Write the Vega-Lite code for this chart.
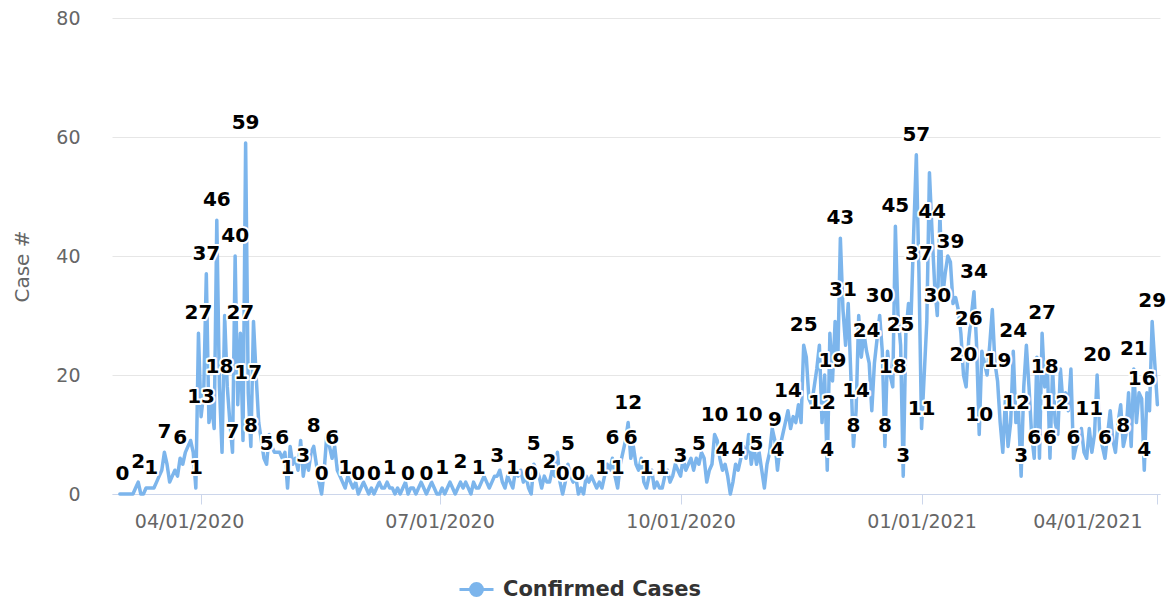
{
"$schema":"https://vega.github.io/schema/vega-lite/v6.json",
"width":1048,"height":476,
"autosize":{"type":"none"},
"padding":{"left":112,"top":18,"right":12,"bottom":111},
"background":"white",
"config":{"view":{"stroke":null},"font":"DejaVu Sans"},
"data":{"values":[
{"d":"2020-03-01","v":0},{"d":"2020-03-02","v":0,"l":1},{"d":"2020-03-03","v":0},{"d":"2020-03-04","v":0},{"d":"2020-03-05","v":0},{"d":"2020-03-06","v":0},{"d":"2020-03-07","v":1},{"d":"2020-03-08","v":2,"l":1},{"d":"2020-03-09","v":0},{"d":"2020-03-10","v":0},{"d":"2020-03-11","v":1},{"d":"2020-03-12","v":1},{"d":"2020-03-13","v":1,"l":1},{"d":"2020-03-14","v":1},{"d":"2020-03-15","v":2},{"d":"2020-03-16","v":3},{"d":"2020-03-17","v":4},{"d":"2020-03-18","v":7,"l":1},{"d":"2020-03-19","v":5},{"d":"2020-03-20","v":2},{"d":"2020-03-21","v":3},{"d":"2020-03-22","v":4},{"d":"2020-03-23","v":3},{"d":"2020-03-24","v":6,"l":1},{"d":"2020-03-25","v":5},{"d":"2020-03-26","v":7},{"d":"2020-03-27","v":8},{"d":"2020-03-28","v":9},{"d":"2020-03-29","v":7},{"d":"2020-03-30","v":1,"l":1},{"d":"2020-03-31","v":27,"l":1},
{"d":"2020-04-01","v":13,"l":1},{"d":"2020-04-02","v":17},{"d":"2020-04-03","v":37,"l":1},{"d":"2020-04-04","v":12},{"d":"2020-04-05","v":15},{"d":"2020-04-06","v":11},{"d":"2020-04-07","v":46,"l":1},{"d":"2020-04-08","v":18,"l":1},{"d":"2020-04-09","v":7},{"d":"2020-04-10","v":30},{"d":"2020-04-11","v":18},{"d":"2020-04-12","v":12},{"d":"2020-04-13","v":7,"l":1},{"d":"2020-04-14","v":40,"l":1},{"d":"2020-04-15","v":15},{"d":"2020-04-16","v":27,"l":1},{"d":"2020-04-17","v":9},{"d":"2020-04-18","v":59,"l":1},{"d":"2020-04-19","v":17,"l":1},{"d":"2020-04-20","v":8,"l":1},{"d":"2020-04-21","v":29},{"d":"2020-04-22","v":20},{"d":"2020-04-23","v":12},{"d":"2020-04-24","v":9},{"d":"2020-04-25","v":6},{"d":"2020-04-26","v":5,"l":1},{"d":"2020-04-27","v":10},{"d":"2020-04-28","v":8},{"d":"2020-04-29","v":7},{"d":"2020-04-30","v":7},
{"d":"2020-05-01","v":7},{"d":"2020-05-02","v":6,"l":1},{"d":"2020-05-03","v":7},{"d":"2020-05-04","v":1,"l":1},{"d":"2020-05-05","v":8},{"d":"2020-05-06","v":5},{"d":"2020-05-07","v":6},{"d":"2020-05-08","v":4},{"d":"2020-05-09","v":9},{"d":"2020-05-10","v":3,"l":1},{"d":"2020-05-11","v":6},{"d":"2020-05-12","v":4},{"d":"2020-05-13","v":7},{"d":"2020-05-14","v":8,"l":1},{"d":"2020-05-15","v":5},{"d":"2020-05-16","v":2},{"d":"2020-05-17","v":0,"l":1},{"d":"2020-05-18","v":4},{"d":"2020-05-19","v":10},{"d":"2020-05-20","v":8},{"d":"2020-05-21","v":6,"l":1},{"d":"2020-05-22","v":8},{"d":"2020-05-23","v":4},{"d":"2020-05-24","v":3},{"d":"2020-05-25","v":2},{"d":"2020-05-26","v":1,"l":1},{"d":"2020-05-27","v":3},{"d":"2020-05-28","v":2},{"d":"2020-05-29","v":1},{"d":"2020-05-30","v":2},{"d":"2020-05-31","v":0,"l":1},
{"d":"2020-06-01","v":1},{"d":"2020-06-02","v":2},{"d":"2020-06-03","v":1},{"d":"2020-06-04","v":0},{"d":"2020-06-05","v":1},{"d":"2020-06-06","v":0,"l":1},{"d":"2020-06-07","v":1},{"d":"2020-06-08","v":2},{"d":"2020-06-09","v":1},{"d":"2020-06-10","v":1},{"d":"2020-06-11","v":2},{"d":"2020-06-12","v":1,"l":1},{"d":"2020-06-13","v":1},{"d":"2020-06-14","v":0},{"d":"2020-06-15","v":1},{"d":"2020-06-16","v":0},{"d":"2020-06-17","v":1},{"d":"2020-06-18","v":2},{"d":"2020-06-19","v":0,"l":1},{"d":"2020-06-20","v":1},{"d":"2020-06-21","v":1},{"d":"2020-06-22","v":0},{"d":"2020-06-23","v":1},{"d":"2020-06-24","v":2},{"d":"2020-06-25","v":1},{"d":"2020-06-26","v":0,"l":1},{"d":"2020-06-27","v":1},{"d":"2020-06-28","v":2},{"d":"2020-06-29","v":1},{"d":"2020-06-30","v":0},
{"d":"2020-07-01","v":0},{"d":"2020-07-02","v":1,"l":1},{"d":"2020-07-03","v":0},{"d":"2020-07-04","v":1},{"d":"2020-07-05","v":2},{"d":"2020-07-06","v":1},{"d":"2020-07-07","v":0},{"d":"2020-07-08","v":1},{"d":"2020-07-09","v":2,"l":1},{"d":"2020-07-10","v":1},{"d":"2020-07-11","v":2},{"d":"2020-07-12","v":1},{"d":"2020-07-13","v":0},{"d":"2020-07-14","v":2},{"d":"2020-07-15","v":1},{"d":"2020-07-16","v":1,"l":1},{"d":"2020-07-17","v":2},{"d":"2020-07-18","v":3},{"d":"2020-07-19","v":2},{"d":"2020-07-20","v":1},{"d":"2020-07-21","v":2},{"d":"2020-07-22","v":3},{"d":"2020-07-23","v":3,"l":1},{"d":"2020-07-24","v":4},{"d":"2020-07-25","v":2},{"d":"2020-07-26","v":1},{"d":"2020-07-27","v":3},{"d":"2020-07-28","v":2},{"d":"2020-07-29","v":1,"l":1},{"d":"2020-07-30","v":4},{"d":"2020-07-31","v":3},
{"d":"2020-08-01","v":4},{"d":"2020-08-02","v":2},{"d":"2020-08-03","v":3},{"d":"2020-08-04","v":1},{"d":"2020-08-05","v":0,"l":1},{"d":"2020-08-06","v":5,"l":1},{"d":"2020-08-07","v":4},{"d":"2020-08-08","v":3},{"d":"2020-08-09","v":1},{"d":"2020-08-10","v":3},{"d":"2020-08-11","v":2},{"d":"2020-08-12","v":2,"l":1},{"d":"2020-08-13","v":4},{"d":"2020-08-14","v":3},{"d":"2020-08-15","v":7},{"d":"2020-08-16","v":2},{"d":"2020-08-17","v":0,"l":1},{"d":"2020-08-18","v":2},{"d":"2020-08-19","v":5,"l":1},{"d":"2020-08-20","v":3},{"d":"2020-08-21","v":2},{"d":"2020-08-22","v":3},{"d":"2020-08-23","v":0,"l":1},{"d":"2020-08-24","v":1},{"d":"2020-08-25","v":0},{"d":"2020-08-26","v":3},{"d":"2020-08-27","v":2},{"d":"2020-08-28","v":3},{"d":"2020-08-29","v":2},{"d":"2020-08-30","v":1},{"d":"2020-08-31","v":2},
{"d":"2020-09-01","v":1,"l":1},{"d":"2020-09-02","v":3},{"d":"2020-09-03","v":5},{"d":"2020-09-04","v":4},{"d":"2020-09-05","v":6,"l":1},{"d":"2020-09-06","v":3},{"d":"2020-09-07","v":1,"l":1},{"d":"2020-09-08","v":5},{"d":"2020-09-09","v":7},{"d":"2020-09-10","v":9},{"d":"2020-09-11","v":12,"l":1},{"d":"2020-09-12","v":6,"l":1},{"d":"2020-09-13","v":8},{"d":"2020-09-14","v":5},{"d":"2020-09-15","v":4},{"d":"2020-09-16","v":6},{"d":"2020-09-17","v":2},{"d":"2020-09-18","v":1,"l":1},{"d":"2020-09-19","v":3},{"d":"2020-09-20","v":4},{"d":"2020-09-21","v":1},{"d":"2020-09-22","v":2},{"d":"2020-09-23","v":1},{"d":"2020-09-24","v":1,"l":1},{"d":"2020-09-25","v":3},{"d":"2020-09-26","v":4},{"d":"2020-09-27","v":2},{"d":"2020-09-28","v":3},{"d":"2020-09-29","v":5},{"d":"2020-09-30","v":4},
{"d":"2020-10-01","v":3,"l":1},{"d":"2020-10-02","v":6},{"d":"2020-10-03","v":4},{"d":"2020-10-04","v":5},{"d":"2020-10-05","v":6},{"d":"2020-10-06","v":4},{"d":"2020-10-07","v":6},{"d":"2020-10-08","v":5,"l":1},{"d":"2020-10-09","v":7},{"d":"2020-10-10","v":6},{"d":"2020-10-11","v":2},{"d":"2020-10-12","v":4},{"d":"2020-10-13","v":5},{"d":"2020-10-14","v":10,"l":1},{"d":"2020-10-15","v":9},{"d":"2020-10-16","v":6},{"d":"2020-10-17","v":4,"l":1},{"d":"2020-10-18","v":5},{"d":"2020-10-19","v":3},{"d":"2020-10-20","v":0},{"d":"2020-10-21","v":2},{"d":"2020-10-22","v":5},{"d":"2020-10-23","v":4,"l":1},{"d":"2020-10-24","v":6},{"d":"2020-10-25","v":8},{"d":"2020-10-26","v":6},{"d":"2020-10-27","v":10,"l":1},{"d":"2020-10-28","v":5},{"d":"2020-10-29","v":8},{"d":"2020-10-30","v":5,"l":1},{"d":"2020-10-31","v":7},
{"d":"2020-11-01","v":4},{"d":"2020-11-02","v":1},{"d":"2020-11-03","v":5},{"d":"2020-11-04","v":7},{"d":"2020-11-05","v":11},{"d":"2020-11-06","v":9,"l":1},{"d":"2020-11-07","v":4,"l":1},{"d":"2020-11-08","v":8},{"d":"2020-11-09","v":10},{"d":"2020-11-10","v":12},{"d":"2020-11-11","v":14,"l":1},{"d":"2020-11-12","v":11},{"d":"2020-11-13","v":13},{"d":"2020-11-14","v":12},{"d":"2020-11-15","v":15},{"d":"2020-11-16","v":12},{"d":"2020-11-17","v":25,"l":1},{"d":"2020-11-18","v":23},{"d":"2020-11-19","v":16},{"d":"2020-11-20","v":15},{"d":"2020-11-21","v":18},{"d":"2020-11-22","v":21},{"d":"2020-11-23","v":25},{"d":"2020-11-24","v":12,"l":1},{"d":"2020-11-25","v":20},{"d":"2020-11-26","v":4,"l":1},{"d":"2020-11-27","v":27},{"d":"2020-11-28","v":19,"l":1},{"d":"2020-11-29","v":29},{"d":"2020-11-30","v":22},
{"d":"2020-12-01","v":43,"l":1},{"d":"2020-12-02","v":31,"l":1},{"d":"2020-12-03","v":25},{"d":"2020-12-04","v":32},{"d":"2020-12-05","v":20},{"d":"2020-12-06","v":8,"l":1},{"d":"2020-12-07","v":14,"l":1},{"d":"2020-12-08","v":30},{"d":"2020-12-09","v":23},{"d":"2020-12-10","v":27},{"d":"2020-12-11","v":24,"l":1},{"d":"2020-12-12","v":22},{"d":"2020-12-13","v":14},{"d":"2020-12-14","v":22},{"d":"2020-12-15","v":26},{"d":"2020-12-16","v":30,"l":1},{"d":"2020-12-17","v":24},{"d":"2020-12-18","v":8,"l":1},{"d":"2020-12-19","v":24},{"d":"2020-12-20","v":20},{"d":"2020-12-21","v":18,"l":1},{"d":"2020-12-22","v":45,"l":1},{"d":"2020-12-23","v":30},{"d":"2020-12-24","v":25,"l":1},{"d":"2020-12-25","v":3,"l":1},{"d":"2020-12-26","v":27},{"d":"2020-12-27","v":32},{"d":"2020-12-28","v":30},{"d":"2020-12-29","v":44},{"d":"2020-12-30","v":57,"l":1},{"d":"2020-12-31","v":37,"l":1},
{"d":"2021-01-01","v":11,"l":1},{"d":"2021-01-02","v":20},{"d":"2021-01-03","v":29},{"d":"2021-01-04","v":54},{"d":"2021-01-05","v":44,"l":1},{"d":"2021-01-06","v":35},{"d":"2021-01-07","v":30,"l":1},{"d":"2021-01-08","v":47},{"d":"2021-01-09","v":33},{"d":"2021-01-10","v":37},{"d":"2021-01-11","v":40},{"d":"2021-01-12","v":39,"l":1},{"d":"2021-01-13","v":32},{"d":"2021-01-14","v":33},{"d":"2021-01-15","v":31},{"d":"2021-01-16","v":27},{"d":"2021-01-17","v":20,"l":1},{"d":"2021-01-18","v":18},{"d":"2021-01-19","v":26,"l":1},{"d":"2021-01-20","v":30},{"d":"2021-01-21","v":34,"l":1},{"d":"2021-01-22","v":25},{"d":"2021-01-23","v":10,"l":1},{"d":"2021-01-24","v":24},{"d":"2021-01-25","v":22},{"d":"2021-01-26","v":20},{"d":"2021-01-27","v":25},{"d":"2021-01-28","v":31},{"d":"2021-01-29","v":22},{"d":"2021-01-30","v":19,"l":1},{"d":"2021-01-31","v":12},
{"d":"2021-02-01","v":7},{"d":"2021-02-02","v":16},{"d":"2021-02-03","v":8},{"d":"2021-02-04","v":12},{"d":"2021-02-05","v":24,"l":1},{"d":"2021-02-06","v":12,"l":1},{"d":"2021-02-07","v":14},{"d":"2021-02-08","v":3,"l":1},{"d":"2021-02-09","v":18},{"d":"2021-02-10","v":25},{"d":"2021-02-11","v":18},{"d":"2021-02-12","v":10},{"d":"2021-02-13","v":6,"l":1},{"d":"2021-02-14","v":23},{"d":"2021-02-15","v":6},{"d":"2021-02-16","v":27,"l":1},{"d":"2021-02-17","v":18,"l":1},{"d":"2021-02-18","v":22},{"d":"2021-02-19","v":6,"l":1},{"d":"2021-02-20","v":21},{"d":"2021-02-21","v":12,"l":1},{"d":"2021-02-22","v":10},{"d":"2021-02-23","v":21},{"d":"2021-02-24","v":15},{"d":"2021-02-25","v":17},{"d":"2021-02-26","v":14},{"d":"2021-02-27","v":21},{"d":"2021-02-28","v":6,"l":1},
{"d":"2021-03-01","v":8},{"d":"2021-03-02","v":9},{"d":"2021-03-03","v":11},{"d":"2021-03-04","v":7},{"d":"2021-03-05","v":6},{"d":"2021-03-06","v":11,"l":1},{"d":"2021-03-07","v":7},{"d":"2021-03-08","v":10},{"d":"2021-03-09","v":20,"l":1},{"d":"2021-03-10","v":10},{"d":"2021-03-11","v":8},{"d":"2021-03-12","v":6,"l":1},{"d":"2021-03-13","v":10},{"d":"2021-03-14","v":14},{"d":"2021-03-15","v":9},{"d":"2021-03-16","v":7},{"d":"2021-03-17","v":12},{"d":"2021-03-18","v":15},{"d":"2021-03-19","v":8,"l":1},{"d":"2021-03-20","v":10},{"d":"2021-03-21","v":17},{"d":"2021-03-22","v":8},{"d":"2021-03-23","v":21,"l":1},{"d":"2021-03-24","v":12},{"d":"2021-03-25","v":17},{"d":"2021-03-26","v":16,"l":1},{"d":"2021-03-27","v":4,"l":1},{"d":"2021-03-28","v":17},{"d":"2021-03-29","v":14},{"d":"2021-03-30","v":29,"l":1},{"d":"2021-03-31","v":22},{"d":"2021-04-01","v":15}
]},
"encoding":{
 "x":{"field":"d","type":"temporal",
  "scale":{"type":"utc","domain":[{"year":2020,"month":2,"date":27,"utc":true},{"year":2021,"month":4,"date":2,"utc":true}]},
  "axis":{"title":null,"grid":false,"labelExpr":"utcFormat(datum.value, '%m/%d/%Y')",
   "values":[{"year":2020,"month":4,"date":1,"utc":true},{"year":2020,"month":7,"date":1,"utc":true},{"year":2020,"month":10,"date":1,"utc":true},{"year":2021,"month":1,"date":1,"utc":true},{"year":2021,"month":4,"date":1,"utc":true}],
   "labelFont":"DejaVu Sans","labelFontSize":19,"labelColor":"#666666","labelPadding":8,"labelOverlap":false,"labelBound":false,
   "tickSize":10,"tickColor":"#ccd6eb","domainColor":"#ccd6eb","domainWidth":1,
   "labelOffset":{"condition":[{"test":"utcyear(datum.value)==2020 && utcmonth(datum.value)==3","value":-12},{"test":"utcyear(datum.value)==2021 && utcmonth(datum.value)==3","value":-70}],"value":0}}},
 "y":{"field":"v","type":"quantitative","scale":{"domain":[0,80]},
  "axis":{"title":"Case #","values":[0,20,40,60,80],"domain":false,"ticks":false,"tickSize":0,
   "labelFont":"DejaVu Sans","labelFontSize":19,"labelColor":"#666666","labelPadding":32,
   "gridColor":"#e6e6e6","gridWidth":1,
   "titleFont":"DejaVu Sans","titleFontSize":20,"titleFontWeight":"normal","titleColor":"#666666",
   "titleX":-90,"titleY":248,"titleAngle":-90,"titleAlign":"center","titleBaseline":"middle"}}
},
"layer":[
 {"mark":{"type":"line","strokeWidth":3.5,"strokeJoin":"round","strokeCap":"round"},
  "encoding":{"color":{"datum":"Confirmed Cases","type":"nominal","scale":{"range":["#7cb5ec"]},
   "legend":{"title":null,"orient":"none","legendX":346,"legendY":553,
    "symbolType":"M-1,0L1,0M0.35,0A0.35,0.35,0,1,1,-0.35,0A0.35,0.35,0,1,1,0.35,0Z",
    "symbolSize":1156,"symbolStrokeWidth":3,"labelOffset":8,"labelLimit":400,
    "labelFont":"DejaVu Sans","labelFontSize":21,"labelFontWeight":"bold","labelColor":"#333333",
    "encode":{"symbols":{"update":{"fill":{"value":"#7cb5ec"},"stroke":{"value":"#7cb5ec"},"strokeWidth":{"value":3}}}}}}}},
 {"transform":[{"filter":"datum.l == 1"}],
  "mark":{"type":"text","font":"DejaVu Sans","fontWeight":"bold","fontSize":20,"dy":-14,"baseline":"alphabetic","fill":"white","stroke":"white","strokeWidth":4,"strokeJoin":"round"},
  "encoding":{"text":{"field":"v","type":"quantitative"}}},
 {"transform":[{"filter":"datum.l == 1"}],
  "mark":{"type":"text","font":"DejaVu Sans","fontWeight":"bold","fontSize":20,"dy":-14,"baseline":"alphabetic","fill":"black"},
  "encoding":{"text":{"field":"v","type":"quantitative"}}}
]
}
